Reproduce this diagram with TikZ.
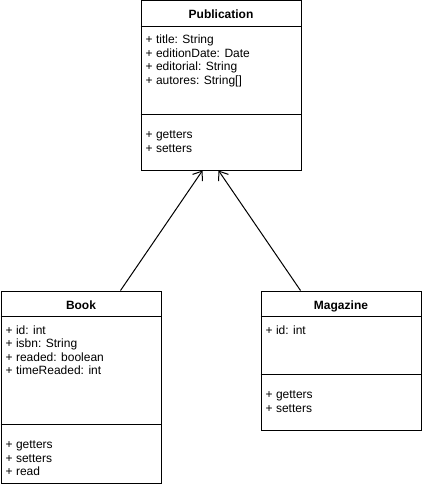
\documentclass[tikz,border=0pt]{standalone}
\usepackage{fontspec}
\setmainfont{Liberation Sans}
\usepackage{tikz}
\usetikzlibrary{arrows.meta, calc, positioning}

\tikzset{
  classbox/.style={draw, line width=1pt, inner sep=0pt, anchor=north west, minimum width=160pt},
  classname/.style={font=\fontsize{12}{13.5}\selectfont\bfseries, anchor=base, inner sep=0pt},
  member/.style={font=\fontsize{12}{13.5}\selectfont, anchor=base west, inner sep=0pt},
  inherit/.style={line width=1pt, -{Straight Barb[length=8pt, width=12pt]}},
}

\providecommand{\Compartments}[3]{%
  % separator lines: class name, header height, attribute height (px)
  \draw[line width=1pt] ($ (#1.north west)+(0,#2) $) -- ($ (#1.north east)+(0,#2) $);
  \draw[line width=1pt] ($ (#1.north west)+(0,#2+#3) $) -- ($ (#1.north east)+(0,#2+#3) $);
}

\begin{document}
\begin{tikzpicture}[x=1pt, y=-1pt]

	\useasboundingbox (0,0) rectangle (421,484);

	% the three classes
	\node[classbox, minimum height=169pt] (pub) at (140.5,0.5) {};
	\node[classbox, minimum height=192pt] (book) at (0.5,290.5) {};
	\node[classbox, minimum height=139pt] (mag) at (260.5,290.5) {};

	\Compartments{pub}{26}{88}
	\Compartments{book}{26}{108}
	\Compartments{mag}{26}{58}

	\node[classname] (pubName) at ($ (pub.north)+(0,18.5) $) {Publication};
	\node[classname] (bookName) at ($ (book.north)+(0,18.5) $) {Book};
	\node[classname] (magName) at ($ (mag.north)+(0,18.5) $) {Magazine};

	% Publication
	\node[member] (pubA1) at ($ (pub.north west)+(5,43.5) $) {+ title: String};
	\node[member] (pubA2) at ($ (pub.north west)+(5,57) $) {+ editionDate: Date};
	\node[member] (pubA3) at ($ (pub.north west)+(5,70.5) $) {+ editorial: String};
	\node[member] (pubA4) at ($ (pub.north west)+(5,84) $) {+ autores: String[]};
	\node[member] (pubM1) at ($ (pub.north west)+(5,138) $) {+ getters};
	\node[member] (pubM2) at ($ (pub.north west)+(5,151.5) $) {+ setters};

	% Book
	\node[member] (bookA1) at ($ (book.north west)+(5,43.5) $) {+ id: int};
	\node[member] (bookA2) at ($ (book.north west)+(5,57) $) {+ isbn: String};
	\node[member] (bookA3) at ($ (book.north west)+(5,70.5) $) {+ readed: boolean};
	\node[member] (bookA4) at ($ (book.north west)+(5,84) $) {+ timeReaded: int};
	\node[member] (bookM1) at ($ (book.north west)+(5,158) $) {+ getters};
	\node[member] (bookM2) at ($ (book.north west)+(5,171.5) $) {+ setters};
	\node[member] (bookM3) at ($ (book.north west)+(5,185) $) {+ read};

	% Magazine
	\node[member] (magA1) at ($ (mag.north west)+(5,43.5) $) {+ id: int};
	\node[member] (magM1) at ($ (mag.north west)+(5,108) $) {+ getters};
	\node[member] (magM2) at ($ (mag.north west)+(5,121.5) $) {+ setters};

	% generalisation
	\coordinate (bookTop) at ($ (book.north west)+(120,0) $);
	\coordinate (magTop) at ($ (mag.north west)+(40,0) $);
	\coordinate (pubL) at ($ (pub.south)+(-18.5,0) $);
	\coordinate (pubR) at ($ (pub.south)+(-2.5,0) $);

	\draw[inherit] (bookTop) -- (pubL);
	\draw[inherit] (magTop) -- (pubR);

\end{tikzpicture}
\end{document}
